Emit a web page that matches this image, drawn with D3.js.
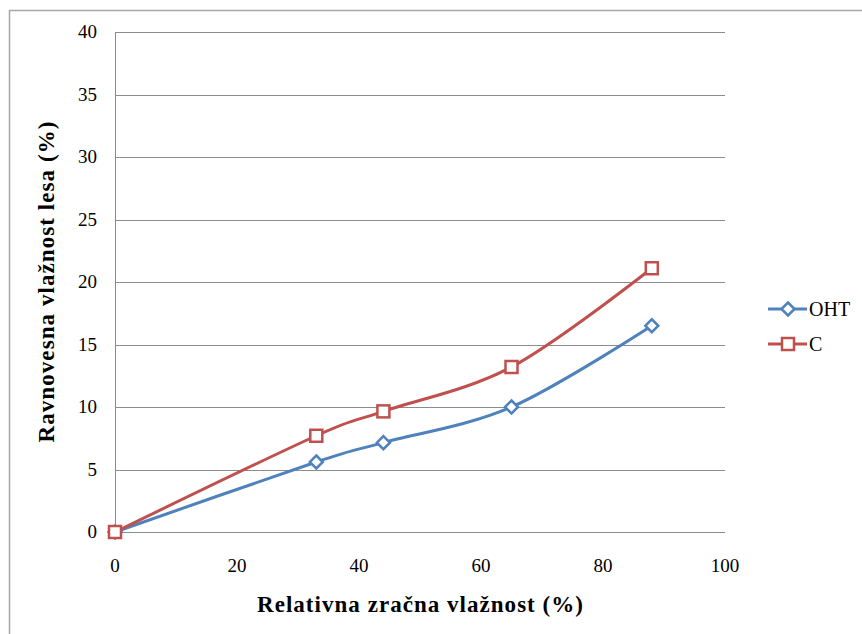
<!DOCTYPE html>
<html>
<head>
<meta charset="utf-8">
<script src="https://cdn.jsdelivr.net/npm/d3@7"></script>
<style>
  html, body { margin: 0; padding: 0; background: #fff; }
  svg { display: block; }
</style>
</head>
<body>
<svg id="chart" width="862" height="634"></svg>
<script>
// Relative air humidity (%) and equilibrium wood moisture content (%)
const humidity = [0, 33, 44, 65, 88];
const ohtValues = [0, 5.6, 7.15, 10.0, 16.5];
const cValues = [0, 7.7, 9.65, 13.2, 21.1];
const xTicks = [0, 20, 40, 60, 80, 100];
const yTicks = [0, 5, 10, 15, 20, 25, 30, 35, 40];

const series = [
  { name: "OHT", values: ohtValues, color: "#4F81BD", marker: "diamond" },
  { name: "C", values: cValues, color: "#C0504D", marker: "square" }
];

const FONT = "'Liberation Serif', 'Times New Roman', Tinos, 'DejaVu Serif', serif";

const svg = d3.select("#chart")
  .attr("font-family", FONT);
const plot = { left: 115, top: 32, right: 725, bottom: 532 };

// outer chart frame (left and top edges visible)
svg.append("path")
  .attr("d", "M9.5,634 L9.5,10.5 L862,10.5")
  .attr("fill", "none")
  .attr("stroke", "#A6A6A6")
  .attr("stroke-width", 1.5);

const x = d3.scaleLinear().domain([0, 100]).range([plot.left, plot.right]);
const y = d3.scaleLinear().domain([0, 40]).range([plot.bottom, plot.top]);

// horizontal gridlines
svg.append("g")
  .selectAll("line")
  .data(yTicks)
  .join("line")
  .attr("x1", plot.left)
  .attr("x2", plot.right)
  .attr("y1", d => Math.round(y(d)) + 0.5)
  .attr("y2", d => Math.round(y(d)) + 0.5)
  .attr("stroke", "#8C8C8C")
  .attr("stroke-width", 1);

// vertical axis line
svg.append("line")
  .attr("x1", plot.left + 0.5).attr("x2", plot.left + 0.5)
  .attr("y1", plot.top).attr("y2", plot.bottom + 0.5)
  .attr("stroke", "#8C8C8C");

// y tick labels
svg.append("g")
  .selectAll("text")
  .data(yTicks)
  .join("text")
  .attr("x", 97)
  .attr("y", d => y(d))
  .attr("dy", "0.34em")
  .attr("text-anchor", "end")
  .attr("font-family", FONT)
  .attr("font-size", 19)
  .text(d => d);

// x tick labels
svg.append("g")
  .selectAll("text")
  .data(xTicks)
  .join("text")
  .attr("x", d => x(d))
  .attr("y", 572)
  .attr("text-anchor", "middle")
  .attr("font-family", FONT)
  .attr("font-size", 19)
  .text(d => d);

// axis titles
svg.append("text")
  .attr("x", 420)
  .attr("y", 612)
  .attr("text-anchor", "middle")
  .attr("font-family", FONT)
  .attr("font-size", 23)
  .attr("font-weight", "bold")
  .attr("textLength", 326)
  .attr("lengthAdjust", "spacing")
  .text("Relativna zračna vlažnost (%)");

svg.append("text")
  .attr("transform", `translate(54, 282) rotate(-90)`)
  .attr("text-anchor", "middle")
  .attr("font-family", FONT)
  .attr("font-size", 23)
  .attr("font-weight", "bold")
  .attr("textLength", 321)
  .attr("lengthAdjust", "spacing")
  .text("Ravnovesna vlažnost lesa (%)");

const line = d3.line()
  .x((d, i) => x(humidity[i]))
  .y(d => y(d))
  .curve(d3.curveCatmullRom.alpha(0));

function drawMarker(g, type, color) {
  if (type === "diamond") {
    g.append("path")
      .attr("d", "M0,-6.5 L6.5,0 L0,6.5 L-6.5,0 Z")
      .attr("fill", "#fff")
      .attr("stroke", color)
      .attr("stroke-width", 2.5);
  } else {
    g.append("rect")
      .attr("x", -6).attr("y", -6)
      .attr("width", 12).attr("height", 12)
      .attr("fill", "#fff")
      .attr("stroke", color)
      .attr("stroke-width", 2.5);
  }
}

series.forEach(s => {
  svg.append("path")
    .datum(s.values)
    .attr("d", line)
    .attr("fill", "none")
    .attr("stroke", s.color)
    .attr("stroke-width", 3);
});

series.forEach(s => {
  s.values.forEach((v, i) => {
    const g = svg.append("g").attr("transform", `translate(${x(humidity[i])},${y(v)})`);
    drawMarker(g, s.marker, s.color);
  });
});

// legend
const legend = svg.append("g");
series.forEach((s, i) => {
  const ly = 309 + i * 35;
  legend.append("line")
    .attr("x1", 768).attr("x2", 807)
    .attr("y1", ly).attr("y2", ly)
    .attr("stroke", s.color)
    .attr("stroke-width", 3);
  const g = legend.append("g").attr("transform", `translate(788,${ly})`);
  drawMarker(g, s.marker, s.color);
  legend.append("text")
    .attr("x", 809)
    .attr("y", ly)
    .attr("dy", "0.34em")
    .attr("font-family", FONT)
    .attr("font-size", 20)
    .text(s.name);
});
</script>
</body>
</html>
